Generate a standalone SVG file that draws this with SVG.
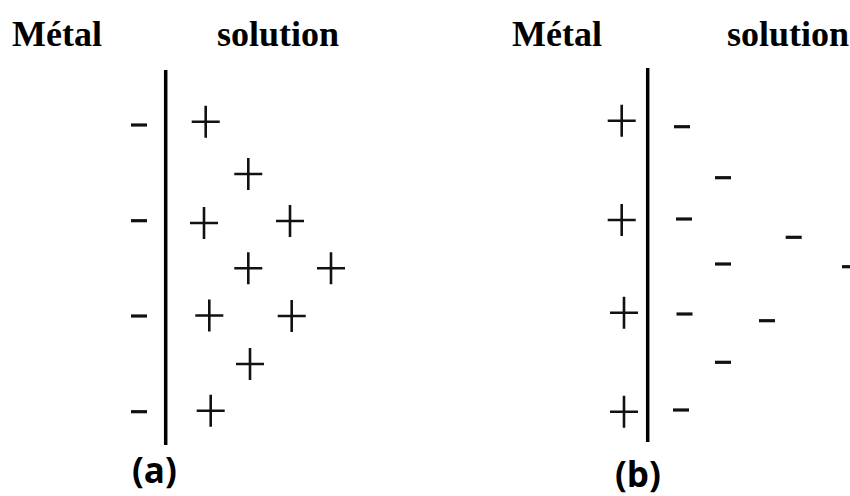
<svg xmlns="http://www.w3.org/2000/svg" width="850" height="496" viewBox="0 0 850 496">
<style>
.title{font-family:"Liberation Serif","Times New Roman",serif;font-weight:bold;font-size:36px;fill:#000}
.lbl{font-family:"Open Sans","Liberation Sans",sans-serif;font-weight:bold;font-size:35px;fill:#000}
.wall{stroke:#000;stroke-width:3.5;fill:none}
.ch{stroke:#111;stroke-width:2.6;fill:none}
.mn{stroke:#111;stroke-width:3.2;fill:none}
</style>
<defs>
<path id="plus" class="ch" d="M-14,0H14M0,-16V16"/>
<path id="minus" class="mn" d="M-8,0H8"/>
</defs>
<rect width="850" height="496" fill="#fff"/>
<g id="panel-a">
<text class="title" x="12" y="46">Métal</text>
<text class="title" x="217" y="46">solution</text>
<line class="wall" x1="165.7" y1="70" x2="165.7" y2="445"/>
<use href="#minus" x="139" y="125"/>
<use href="#minus" x="139" y="220.7"/>
<use href="#minus" x="139" y="316"/>
<use href="#minus" x="139" y="411.7"/>
<use href="#plus" x="205.7" y="121.7"/>
<use href="#plus" x="248.3" y="174"/>
<use href="#plus" x="204" y="223"/>
<use href="#plus" x="290" y="221"/>
<use href="#plus" x="248.3" y="268.3"/>
<use href="#plus" x="331" y="268.3"/>
<use href="#plus" x="209.3" y="315.5"/>
<use href="#plus" x="291.7" y="316"/>
<use href="#plus" x="250" y="364"/>
<use href="#plus" x="210.7" y="410.7"/>
<text class="lbl" x="132" y="483">(a)</text>
</g>
<g id="panel-b">
<text class="title" x="512" y="46">Métal</text>
<text class="title" x="727" y="46">solution</text>
<line class="wall" x1="647.7" y1="68" x2="647.7" y2="442"/>
<use href="#plus" x="621.7" y="120.7"/>
<use href="#plus" x="621.7" y="220"/>
<use href="#plus" x="624" y="312.7"/>
<use href="#plus" x="624" y="411.7"/>
<use href="#minus" x="682" y="126.7"/>
<use href="#minus" x="723" y="177.7"/>
<use href="#minus" x="684" y="219"/>
<use href="#minus" x="793.7" y="237.3"/>
<use href="#minus" x="723" y="264"/>
<use href="#minus" x="850" y="266.7"/>
<use href="#minus" x="684.5" y="314"/>
<use href="#minus" x="767" y="320.7"/>
<use href="#minus" x="723" y="362.3"/>
<use href="#minus" x="681" y="410"/>
<text class="lbl" x="615" y="487">(b)</text>
</g>
</svg>
